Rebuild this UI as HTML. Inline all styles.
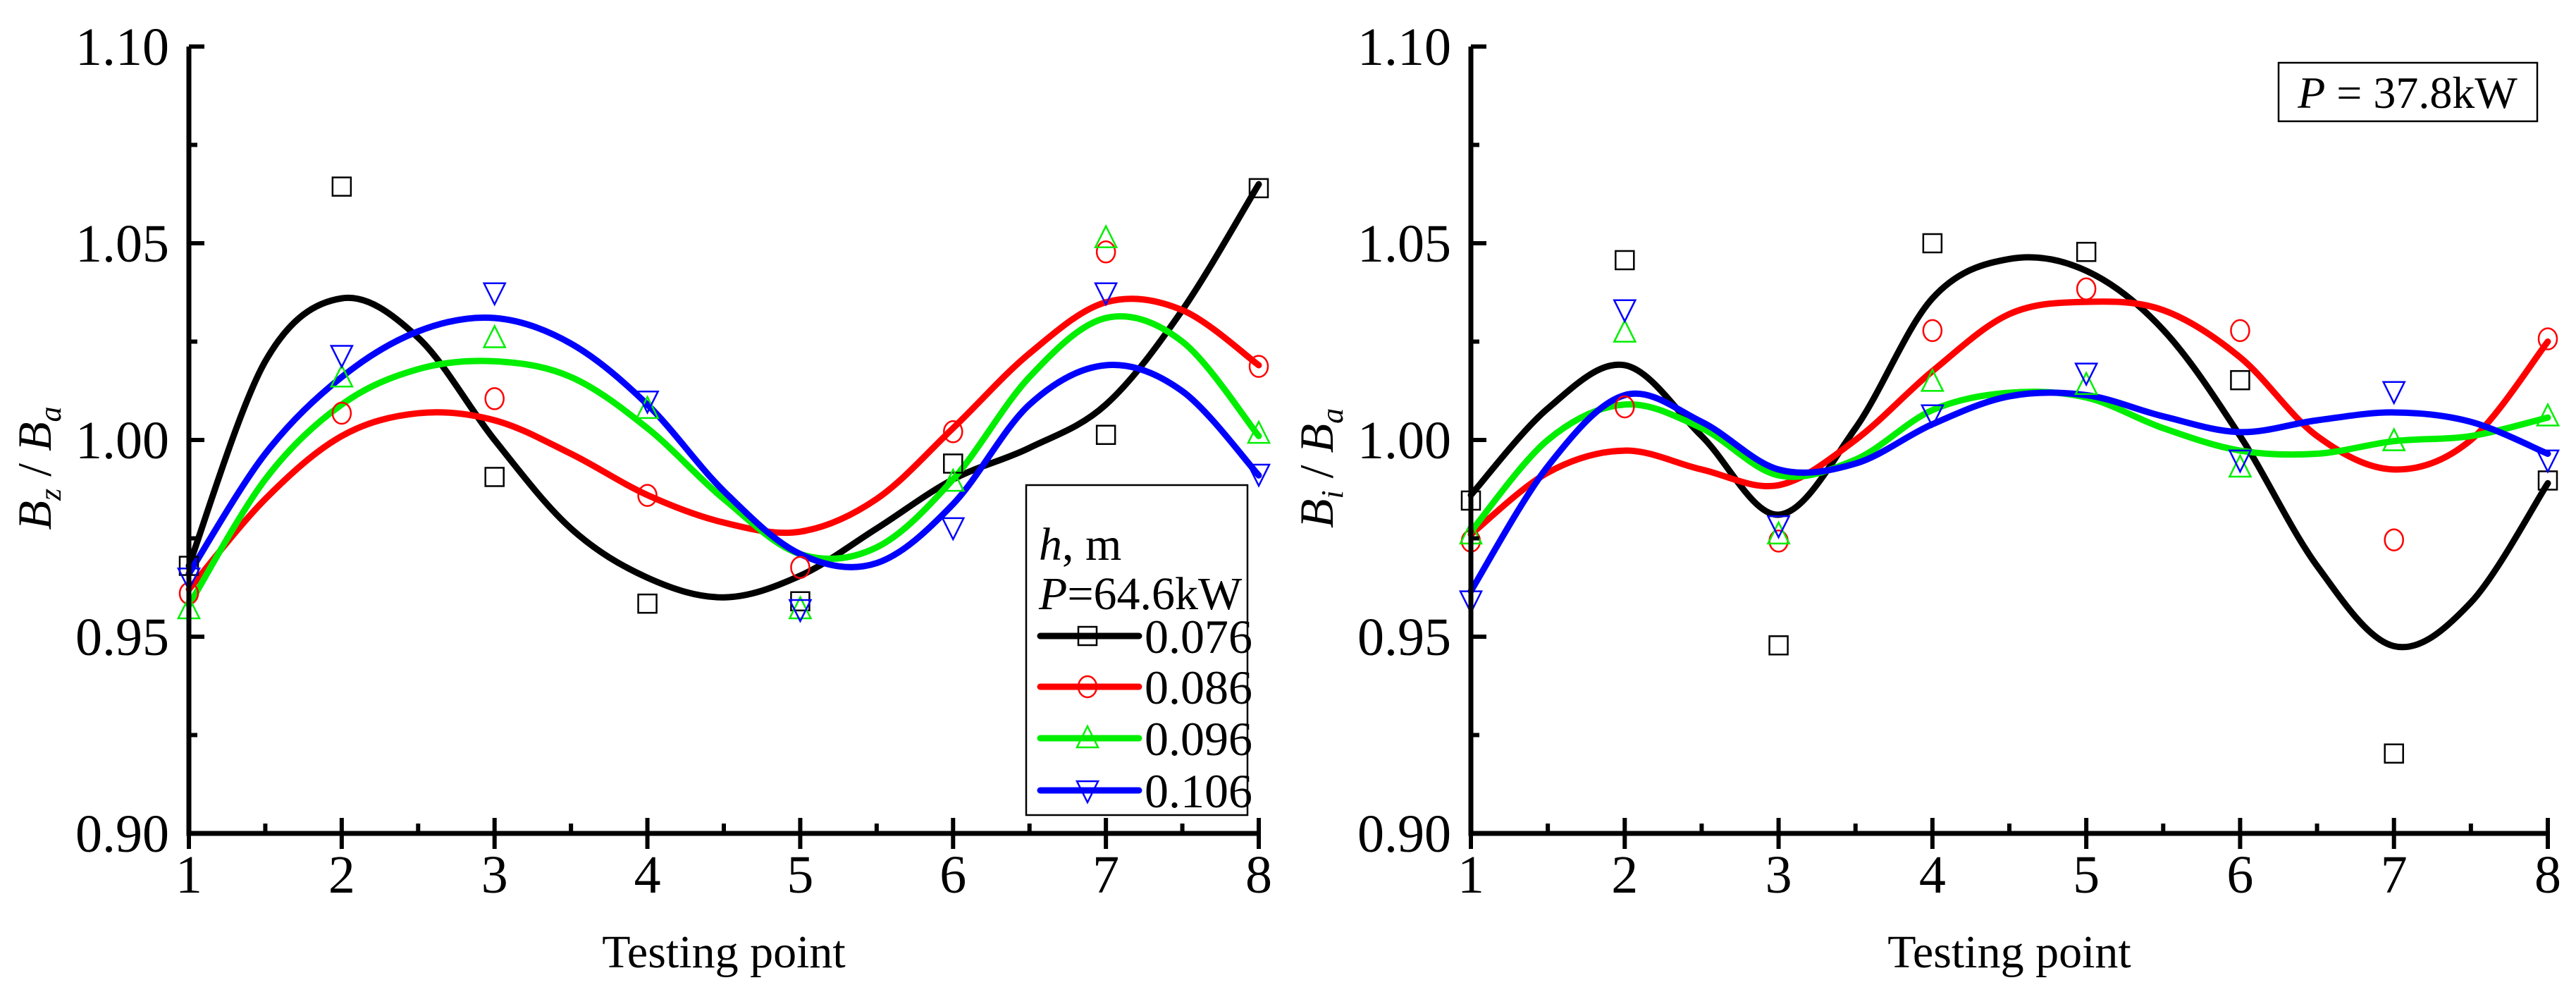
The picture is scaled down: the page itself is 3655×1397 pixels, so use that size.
<!DOCTYPE html>
<html><head><meta charset="utf-8"><style>
html,body{margin:0;padding:0;background:#fff;}
svg{display:block;font-family:"Liberation Serif",serif;}
svg text{font-family:"Liberation Serif",serif;}
</style></head><body>
<svg id="chart" width="3655" height="1397" viewBox="0 0 3655 1397" xmlns="http://www.w3.org/2000/svg" font-family="Liberation Serif, serif"></svg>
<script>
const xCats=[1,2,3,4,5,6,7,8];
const curveX=[1,1.5,2,2.5,3,3.5,4,4.5,5,5.5,6,6.5,7,7.5,8];
const yTicks=[0.90,0.95,1.00,1.05,1.10];
const yTickLabels=["0.90","0.95","1.00","1.05","1.10"];
const seriesNames=["0.076","0.086","0.096","0.106"];
const colors=["#000000","#ff0000","#00ee00","#0000ff"];
const markers=["square","circle","up","down"];
// Left panel (P=64.6kW)
const L076=[0.968,1.0644,0.9906,0.9584,0.959,0.994,1.0013,1.064];
const L086=[0.961,1.0068,1.0105,0.9859,0.9676,1.0021,1.0478,1.0187];
const L096=[0.957,1.0159,1.0259,1.0079,0.957,0.9894,1.0513,1.0016];
const L106=[0.965,1.0216,1.0375,1.010,0.957,0.9778,1.0375,0.9914];
const LC076=[0.968,1.020,1.036,1.026,1.0,0.9775,0.965,0.960,0.9655,0.9775,0.990,0.998,1.009,1.033,1.065];
const LC086=[0.962,0.985,1.001,1.0068,1.005,0.9965,0.986,0.979,0.9767,0.985,1.003,1.022,1.035,1.033,1.019];
const LC096=[0.958,0.990,1.009,1.018,1.020,1.016,1.003,0.985,0.971,0.9727,0.990,1.016,1.031,1.025,1.001];
const LC106=[0.966,0.9965,1.016,1.0276,1.031,1.0245,1.009,0.987,0.971,0.9687,0.9837,1.009,1.019,1.0124,0.991];
// Right panel (P=37.8kW)
const R076=[0.9846,1.0457,0.9478,1.050,1.0478,1.0152,0.9203,0.9897];
const R086=[0.9743,1.0084,0.9743,1.0278,1.0384,1.0278,0.9746,1.0257];
const R096=[0.976,1.0273,0.976,1.0148,1.014,0.993,0.9997,1.006];
const R106=[0.9592,1.0332,0.9783,1.0065,1.0171,0.995,1.0124,0.995];
const RC076=[0.986,1.008,1.019,1.001,0.981,1.003,1.036,1.046,1.043,1.028,1.001,0.968,0.9476,0.9587,0.989];
const RC086=[0.976,0.9917,0.9973,0.9925,0.9885,1.000,1.0175,1.032,1.0351,1.033,1.021,1.001,0.9925,1.000,1.025];
const RC096=[0.9767,1.000,1.009,1.003,0.991,0.995,1.0076,1.012,1.0108,1.003,0.9973,0.9965,0.9997,1.001,1.0057];
const RC106=[0.9616,0.9933,1.0114,1.0046,0.9925,0.994,1.004,1.0111,1.0114,1.006,1.002,1.005,1.007,1.0046,0.9965];

const NS="http://www.w3.org/2000/svg";
const svg=document.getElementById('chart');
function mk(tag,attrs,parent){const e=document.createElementNS(NS,tag);for(const k in attrs)e.setAttribute(k,attrs[k]);(parent||svg).appendChild(e);return e;}

function panel(opt){
  const g=mk('g',{});
  
  
  const x0=opt.x0,x1=opt.x1,yT=66,yB=1182;
  const sx=v=>x0+(v-1)/(7)*(x1-x0);
  const sy=v=>yB-(v-0.90)/0.20*(yB-yT);
  const curves=opt.curves, pts=opt.pts;
  curves.forEach((c,i)=>{
    const P=curveX.map((xv,j)=>[sx(xv),sy(c[j])]);
    let d='M'+P[0][0]+','+P[0][1];
    for(let j=0;j<P.length-1;j++){
      const p0=P[Math.max(0,j-1)],p1=P[j],p2=P[j+1],p3=P[Math.min(P.length-1,j+2)];
      const c1=[p1[0]+(p2[0]-p0[0])/6,p1[1]+(p2[1]-p0[1])/6];
      const c2=[p2[0]-(p3[0]-p1[0])/6,p2[1]-(p3[1]-p1[1])/6];
      d+=' C'+c1[0]+','+c1[1]+' '+c2[0]+','+c2[1]+' '+p2[0]+','+p2[1];
    }
    const path=mk('path',{d:d,fill:'none',stroke:colors[i],'stroke-width':9,'stroke-linecap':'round'},g);
    
    
  });
  pts.forEach((s,i)=>{
    s.forEach((v,j)=>{
      const m=marker(markers[i],sx(xCats[j]),sy(v),colors[i],g);
      
      
    });
  });
  const ax=mk('path',{d:`M${x0},${yT} L${x0},${yB} L${x1},${yB}`,fill:'none',stroke:'#000','stroke-width':7},g);
  
  
  for(let k=0;k<=8;k++){
    const v=0.90+k*0.025,y=sy(v);
    const major=k%2===0;
    mk('line',{x1:x0,x2:x0+(major?22:12),y1:y,y2:y,stroke:'#000','stroke-width':6},g);
  }
  yTicks.forEach((v,k)=>{
    const t=mk('text',{x:x0-28,y:sy(v)+26,'text-anchor':'end','font-size':76,'font-family':'Liberation Serif, serif'},g);
    t.textContent=yTickLabels[k];
    
    
  });
  for(let v=1;v<=8;v+=0.5){
    const x=sx(v);
    if(Number.isInteger(v)) mk('line',{x1:x,x2:x,y1:yB-22,y2:yB+22,stroke:'#000','stroke-width':6},g);
    else mk('line',{x1:x,x2:x,y1:yB-14,y2:yB,stroke:'#000','stroke-width':6},g);
  }
  xCats.forEach(v=>{
    const t=mk('text',{x:sx(v),y:1266,'text-anchor':'middle','font-size':76,'font-family':'Liberation Serif, serif'},g);
    t.textContent=String(v);
    
    
  });
  const xt=mk('text',{x:(x0+x1)/2,y:1372,'text-anchor':'middle','font-size':66,'font-family':'Liberation Serif, serif'},g);
  xt.textContent='Testing point';
  
  
  const yt=mk('text',{x:0,y:0,transform:`translate(${x0-196},${(yT+yB)/2+40}) rotate(-90)`,'text-anchor':'middle','font-size':68,'font-family':'Liberation Serif, serif'},g);
  yt.innerHTML=`<tspan font-style="italic">B</tspan><tspan font-style="italic" font-size="44" dy="14">${opt.sub}</tspan><tspan dy="-14"> / </tspan><tspan font-style="italic">B</tspan><tspan font-style="italic" font-size="44" dy="14">a</tspan>`;
  
  
  return g;
}
function marker(type,x,y,c,g){
  const s=13;
  if(type==='square') return mk('rect',{x:x-s,y:y-s,width:2*s,height:2*s,fill:'none',stroke:c,'stroke-width':2.5},g);
  if(type==='circle') return mk('ellipse',{cx:x,cy:y,rx:s,ry:s+2,fill:'none',stroke:c,'stroke-width':2.5},g);
  if(type==='up') return mk('polygon',{points:`${x},${y-s-4} ${x-s-2},${y+s} ${x+s+2},${y+s}`,fill:'none',stroke:c,'stroke-width':2.5},g);
  return mk('polygon',{points:`${x},${y+s+4} ${x-s-2},${y-s} ${x+s+2},${y-s}`,fill:'none',stroke:c,'stroke-width':2.5},g);
}
panel({name:'left-panel',x0:268,x1:1786,sub:'z',pts:[L076,L086,L096,L106],curves:[LC076,LC086,LC096,LC106]});
panel({name:'right-panel',x0:2087,x1:3615,sub:'i',pts:[R076,R086,R096,R106],curves:[RC076,RC086,RC096,RC106]});

const lg=mk('g',{});


mk('rect',{x:1456,y:688,width:314,height:468,fill:'#fff',stroke:'#000','stroke-width':2.5},lg);
const lt1=mk('text',{x:1474,y:794,'font-size':66,'font-family':'Liberation Serif, serif'},lg);
lt1.innerHTML='<tspan font-style="italic">h</tspan>, m';


const lt2=mk('text',{x:1474,y:864,'font-size':66,'font-family':'Liberation Serif, serif'},lg);
lt2.innerHTML='<tspan font-style="italic">P</tspan>=64.6kW';


const legY=[902,974,1047,1121];
seriesNames.forEach((n,i)=>{
  const e=mk('g',{},lg);
  
  
  mk('line',{x1:1476,x2:1616,y1:legY[i],y2:legY[i],stroke:colors[i],'stroke-width':9,'stroke-linecap':'round'},e);
  marker(markers[i],1543,legY[i],colors[i],e);
  const t=mk('text',{x:1624,y:legY[i]+24,'font-size':68,'font-family':'Liberation Serif, serif'},e);
  t.textContent=n;
});
const ab=mk('g',{});


mk('rect',{x:3233,y:89,width:367,height:83,fill:'#fff',stroke:'#000','stroke-width':2.5},ab);
const at=mk('text',{x:3416,y:153,'text-anchor':'middle','font-size':64,'font-family':'Liberation Serif, serif'},ab);
at.innerHTML='<tspan font-style="italic">P</tspan> = 37.8kW';
</script>
</body></html>
